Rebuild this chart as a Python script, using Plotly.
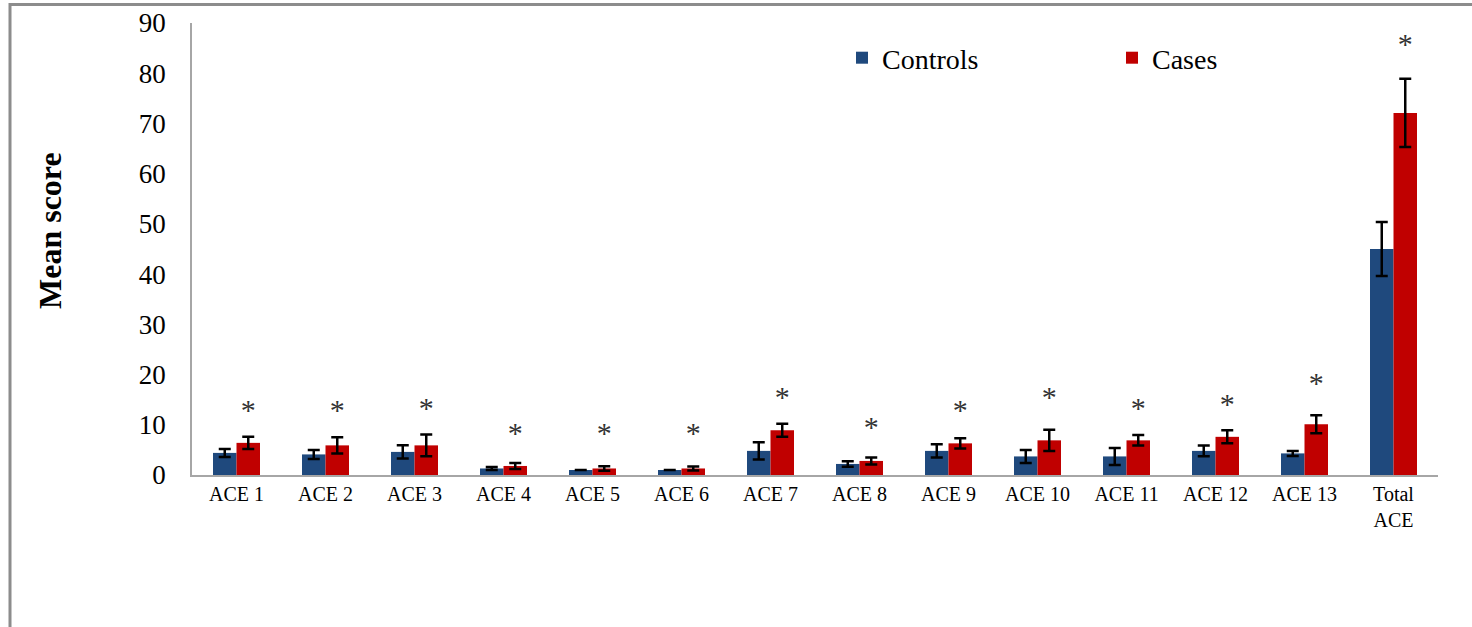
import plotly.graph_objects as go

categories = ["ACE 1", "ACE 2", "ACE 3", "ACE 4", "ACE 5", "ACE 6", "ACE 7",
              "ACE 8", "ACE 9", "ACE 10", "ACE 11", "ACE 12", "ACE 13", "Total<br>ACE"]
controls_mean = [4.4, 4.1, 4.6, 1.3, 1.0, 1.0, 4.8, 2.2, 4.8, 3.7, 3.7, 4.8, 4.3, 45.0]
controls_err = [0.8, 0.9, 1.3, 0.3, 0.0, 0.0, 1.7, 0.55, 1.3, 1.3, 1.7, 1.05, 0.5, 5.4]
cases_mean = [6.4, 5.9, 5.9, 1.8, 1.3, 1.3, 8.9, 2.8, 6.3, 6.9, 6.9, 7.6, 10.1, 72.1]
cases_err = [1.2, 1.6, 2.15, 0.6, 0.45, 0.4, 1.3, 0.7, 1.0, 2.1, 1.05, 1.3, 1.8, 6.8]
star_level = [12.4, 12.4, 12.8, 7.8, 7.8, 7.8, 15.0, 9.0, 12.4, 15.0, 12.8, 13.6, 17.8, 85.3]
tick_vals_y = [0, 10, 20, 30, 40, 50, 60, 70, 80, 90]

BLUE = "#1F497D"
RED = "#C00000"
FONT = "Liberation Serif"

W, H = 1472, 627
ML, MR, MT, MB = 192, 34, 23, 152
PW, PH = W - ML - MR, H - MT - MB

bar_w = 0.264
idx = list(range(len(categories)))
x_ctrl = [i - bar_w / 2 for i in idx]
x_case = [i + bar_w / 2 for i in idx]

fig = go.Figure()
fig.add_trace(go.Bar(
    x=x_ctrl, y=controls_mean, width=bar_w, name="Controls",
    marker=dict(color=BLUE, line=dict(width=0)),
    error_y=dict(type="data", array=controls_err, visible=True,
                 color="black", thickness=2.5, width=6),
))
fig.add_trace(go.Bar(
    x=x_case, y=cases_mean, width=bar_w, name="Cases",
    marker=dict(color=RED, line=dict(width=0)),
    error_y=dict(type="data", array=cases_err, visible=True,
                 color="black", thickness=2.5, width=6),
))
fig.add_trace(go.Scatter(
    x=x_case, y=star_level, mode="text", text=["*"] * len(categories),
    textposition="middle center",
    textfont=dict(family=FONT, size=30, color="#333333"),
    showlegend=False, hoverinfo="skip",
))


def px_x(px):
    return (px - ML) / PW


def px_y(py):
    return (H - MB - py) / PH


fig.update_layout(
    width=W, height=H,
    margin=dict(l=ML, r=MR, t=MT, b=MB, autoexpand=False),
    paper_bgcolor="white", plot_bgcolor="white",
    barmode="overlay",
    font=dict(family=FONT, color="black"),
    xaxis=dict(
        range=[-0.5, len(categories) - 0.5],
        tickmode="array", tickvals=idx, ticktext=categories,
        tickfont=dict(family=FONT, size=20, color="black"),
        showgrid=False, zeroline=False,
        showline=True, linecolor="#A6A6A6", linewidth=1.5,
        ticks="", tickangle=0,
    ),
    yaxis=dict(
        range=[0, 90], tickmode="array", tickvals=tick_vals_y,
        tickfont=dict(family=FONT, size=27, color="black"),
        showgrid=False, zeroline=False,
        showline=True, linecolor="#A6A6A6", linewidth=1.5,
        ticks="", ticklabelstandoff=19,
    ),
    legend=dict(
        orientation="h", x=px_x(842), y=px_y(58), xanchor="left", yanchor="middle",
        font=dict(family=FONT, size=28, color="black"),
        entrywidth=225, entrywidthmode="pixels",
        bgcolor="rgba(0,0,0,0)",
    ),
    annotations=[dict(
        text="<b>Mean score</b>", textangle=-90,
        xref="paper", yref="paper", x=px_x(50), y=px_y(231),
        xanchor="center", yanchor="middle", showarrow=False,
        font=dict(family=FONT, size=32, color="black"),
    )],
    shapes=[dict(
        type="rect", xref="paper", yref="paper",
        x0=px_x(10), y0=px_y(640), x1=px_x(1480), y1=px_y(4.5),
        line=dict(color="#8C8C8C", width=3), fillcolor="rgba(0,0,0,0)",
        layer="below",
    )],
    showlegend=True,
)

fig.write_html("out.html", config={"displayModeBar": False},
               post_script="document.body.style.margin='0';")
